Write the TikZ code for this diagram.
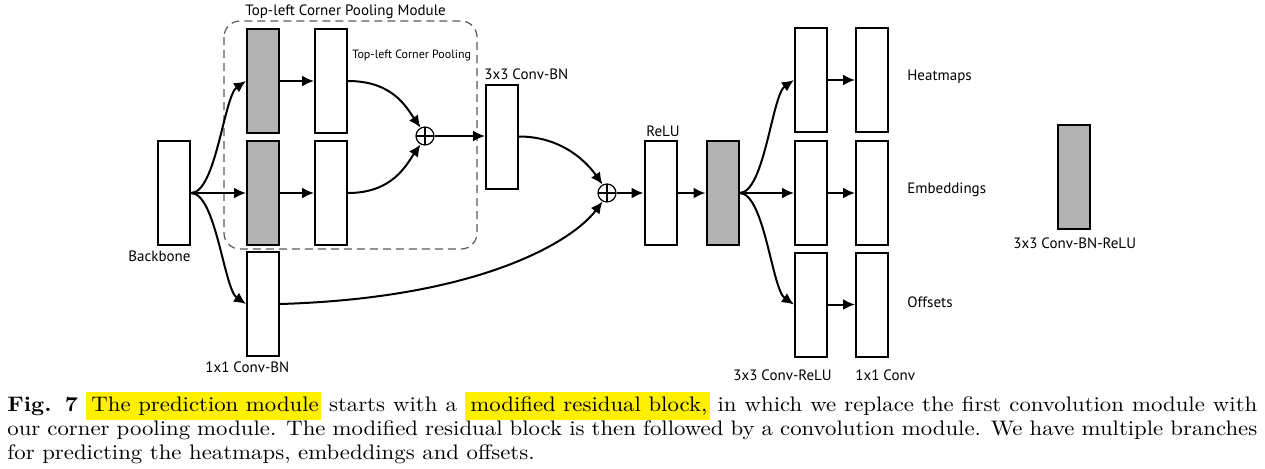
\documentclass[tikz,border=0pt]{standalone}
\usepackage{fontspec}
\setsansfont{PT Sans}
\usetikzlibrary{arrows.meta}
\definecolor{boxgray}{RGB}{179,179,179}
\definecolor{hlyellow}{RGB}{255,240,0}
\definecolor{dashgray}{RGB}{90,90,90}
\newcommand{\hlbox}[1]{{\setlength{\fboxsep}{0pt}\colorbox{hlyellow}{\rule[-4.3pt]{0pt}{14pt}\hspace{2.5pt}#1\hspace{1pt}}}}
\newcommand{\capline}[1]{\scalebox{1.085}[1]{#1}}
\begin{document}
\begin{tikzpicture}[x=0.5pt,y=-0.5pt,
  blk/.style={draw,line width=1pt,minimum width=16pt,minimum height=52pt,inner sep=0pt,fill=white},
  gblk/.style={blk,fill=boxgray},
  oplus/.style={draw,circle,line width=0.6pt,minimum size=9pt,inner sep=0pt,
    path picture={\draw[line width=0.6pt] (path picture bounding box.north) -- (path picture bounding box.south)
      (path picture bounding box.west) -- (path picture bounding box.east);}},
  conn/.style={line width=1pt,-{Latex[length=6pt,width=5.5pt]}},
  lbl/.style={font=\sffamily\fontsize{7.5}{8.5}\selectfont,inner sep=0pt,anchor=west},
  slbl/.style={font=\sffamily\fontsize{6}{7}\selectfont,inner sep=0pt,anchor=west},
  caption/.style={font=\fontsize{10.5}{12}\selectfont,inner sep=0pt,anchor=base west}]
\useasboundingbox (0,0) rectangle (1265,468);
% dashed module frame
\draw[dashgray,line width=0.6pt,dash pattern=on 4pt off 2.5pt,rounded corners=8pt] (224,21) rectangle (477,249);
% blocks
\node[blk] (bb) at (174,193) {};
\node[gblk] (g1) at (263,81) {};
\node[gblk] (g2) at (263,193) {};
\node[blk] (c1) at (263,304) {};
\node[blk] (w1) at (331,81) {};
\node[blk] (w2) at (331,193) {};
\node[oplus] (p1) at (425,136) {};
\node[blk] (cb) at (502,136.5) {};
\node[oplus] (p2) at (607,193) {};
\node[blk] (relu) at (660.5,193) {};
\node[gblk] (g3) at (722.5,193) {};
\node[blk] (b1) at (811,80) {};
\node[blk] (b2) at (811,193) {};
\node[blk] (b3) at (811,304.5) {};
\node[blk] (o1) at (872,80) {};
\node[blk] (o2) at (872,193) {};
\node[blk] (o3) at (872,304.5) {};
\node[gblk] (leg) at (1073.5,177) {};
% connectors
\draw[conn] (bb.east) .. controls +(25,0) and +(-22,15) .. (g1.west);
\draw[conn] (bb.east) -- (g2.west);
\draw[conn] (bb.east) .. controls +(25,0) and +(-22,-15) .. (c1.west);
\draw[conn] (g1.east) -- (w1.west);
\draw[conn] (g2.east) -- (w2.west);
\draw[conn] (w1.east) .. controls +(45,0) and +(-14,-20) .. (p1.118);
\draw[conn] (w2.east) .. controls +(45,0) and +(-14,20) .. (p1.242);
\draw[conn] (p1.east) -- (cb.west |- p1.east);
\draw[conn] (cb.east) .. controls +(45,0) and +(-14,-20) .. (p2.118);
\draw[conn] (c1.east) .. controls +(200,-6) and +(-30,40) .. (p2.242);
\draw[conn] (p2.east) -- (relu.west);
\draw[conn] (relu.east) -- (g3.west);
\draw[conn] (g3.east) .. controls +(25,0) and +(-22,15) .. (b1.west);
\draw[conn] (g3.east) -- (b2.west);
\draw[conn] (g3.east) .. controls +(25,0) and +(-22,-15) .. (b3.west);
\draw[conn] (b1.east) -- (o1.west);
\draw[conn] (b2.east) -- (o2.west);
\draw[conn] (b3.east) -- (o3.west);
% labels
\node[lbl] (tmod) at (245,12) {Top-left Corner Pooling Module};
\node[slbl] (tpool) at (352,55) {Top-left Corner Pooling};
\node[lbl] (tcb) at (484,74) {3x3 Conv-BN};
\node[lbl] (trelu) at (646,131) {ReLU};
\node[lbl] (tbb) at (128,256) {Backbone};
\node[lbl] (tc1) at (205,367) {1x1 Conv-BN};
\node[lbl] (theat) at (907,77) {Heatmaps};
\node[lbl] (temb) at (907,190) {Embeddings};
\node[lbl] (toff) at (907,302) {Offsets};
\node[lbl] (tcr) at (733,375) {3x3 Conv-ReLU};
\node[lbl] (t11) at (855,375) {1x1 Conv};
\node[lbl] (tleg) at (1013,243) {3x3 Conv-BN-ReLU};
% caption
\node[caption] (cap1) at (7,411) {\capline{\makebox[576pt][s]{\textbf{Fig. 7} \hlbox{The prediction module} starts with a \hlbox{modified residual block,} in which we replace the first convolution module with}}};
\node[caption] (cap2) at (7,435) {\capline{\makebox[576pt][s]{our corner pooling module. The modified residual block is then followed by a convolution module. We have multiple branches}}};
\node[caption] (cap3) at (7,459) {\capline{for predicting the heatmaps, embeddings and offsets.}};
\end{tikzpicture}
\end{document}
